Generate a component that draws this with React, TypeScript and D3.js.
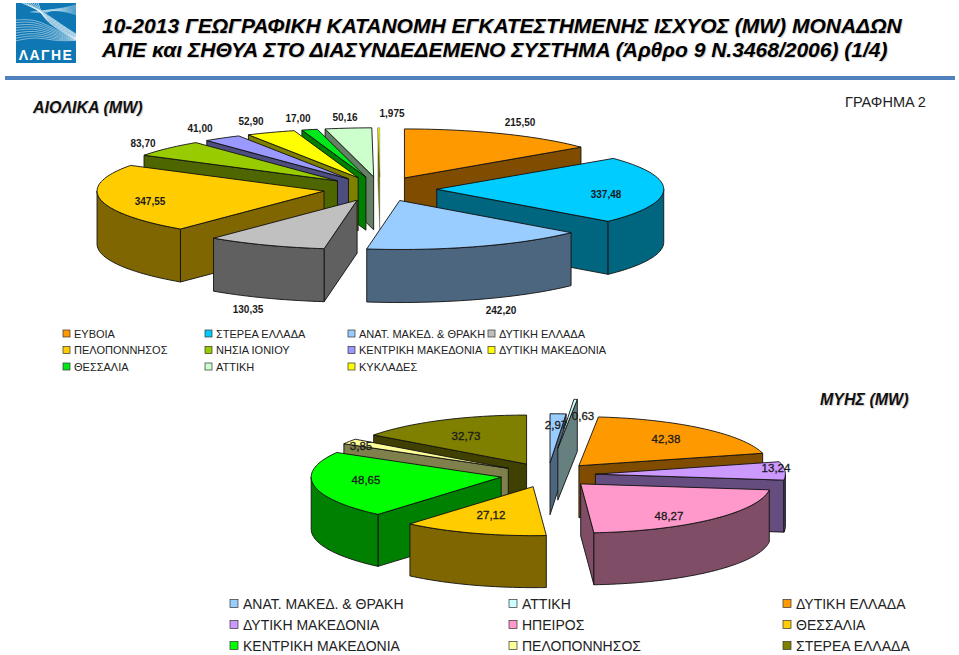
import React, { useEffect, useRef } from "react";
import * as d3 from "d3";

// ---- data ----
const titleLines = [
  "10-2013 ΓΕΩΓΡΑΦΙΚΗ ΚΑΤΑΝΟΜΗ ΕΓΚΑΤΕΣΤΗΜΕΝΗΣ ΙΣΧΥΟΣ (MW) ΜΟΝΑΔΩΝ",
  "ΑΠΕ και ΣΗΘΥΑ ΣΤΟ ΔΙΑΣΥΝΔΕΔΕΜΕΝΟ ΣΥΣΤΗΜΑ (Άρθρο 9 Ν.3468/2006) (1/4)",
];

// wind pie, clockwise from 12 o'clock (same order as its legend)
const windCategories = [
  "ΕΥΒΟΙΑ", "ΣΤΕΡΕΑ ΕΛΛΑΔΑ", "ΑΝΑΤ. ΜΑΚΕΔ. & ΘΡΑΚΗ", "ΔΥΤΙΚΗ ΕΛΛΑΔΑ",
  "ΠΕΛΟΠΟΝΝΗΣΟΣ", "ΝΗΣΙΑ ΙΟΝΙΟΥ", "ΚΕΝΤΡΙΚΗ ΜΑΚΕΔΟΝΙΑ", "ΔΥΤΙΚΗ ΜΑΚΕΔΟΝΙΑ",
  "ΘΕΣΣΑΛΙΑ", "ΑΤΤΙΚΗ", "ΚΥΚΛΑΔΕΣ",
];
const windValues = [215.5, 337.48, 242.2, 130.35, 347.55, 83.7, 41, 52.9, 17, 50.16, 1.975];
const windLabels = ["215,50", "337,48", "242,20", "130,35", "347,55", "83,70", "41,00", "52,90", "17,00", "50,16", "1,975"];
const windTops = ["#ff9900", "#00ccff", "#99ccff", "#c0c0c0", "#ffcc00", "#99cc00", "#9999ff", "#ffff00", "#00e81a", "#ccffcc", "#ffff00"];
const windWalls = ["#804d00", "#006680", "#4d6680", "#606060", "#806600", "#4d6600", "#4d4d80", "#808000", "#008000", "#668066", "#808000"];

// hydro pie, clockwise from 12 o'clock
const hydroSlices = [
  "ΑΝΑΤ. ΜΑΚΕΔ. & ΘΡΑΚΗ", "ΑΤΤΙΚΗ", "ΔΥΤΙΚΗ ΕΛΛΑΔΑ", "ΔΥΤΙΚΗ ΜΑΚΕΔΟΝΙΑ", "ΗΠΕΙΡΟΣ",
  "ΘΕΣΣΑΛΙΑ", "ΚΕΝΤΡΙΚΗ ΜΑΚΕΔΟΝΙΑ", "ΠΕΛΟΠΟΝΝΗΣΟΣ", "ΣΤΕΡΕΑ ΕΛΛΑΔΑ",
];
const hydroValues = [2.97, 0.63, 42.38, 13.24, 48.27, 27.12, 48.65, 3.85, 32.73];
const hydroLabels = ["2,97", "0,63", "42,38", "13,24", "48,27", "27,12", "48,65", "3,85", "32,73"];
const hydroTops = ["#99ccff", "#ccffff", "#ff9900", "#cc99ff", "#ff99cc", "#ffcc00", "#00ff00", "#ffff99", "#808000"];
const hydroWalls = ["#4d6680", "#668080", "#804d00", "#664d80", "#804d66", "#806600", "#008000", "#80804d", "#404000"];

// ---- layout (label centres) ----
const windLabelPos = [[520, 122], [606, 194], [501, 310], [248, 309], [150, 201], [143, 143], [200, 128], [251, 121], [298, 118], [345, 117], [392, 113]];
const hydroLabelPos = [[556, 425], [583, 416], [666, 439], [776, 468], [669, 516], [491, 515], [366, 480], [361, 446], [466, 436]];

const FONT = "'Liberation Sans', Arial, sans-serif";

type PieCfg = {
  cx: number; cy: number; rx: number; ry: number; depth: number;
  values: number[]; tops: string[]; walls: string[];
  pull: (i: number) => number;
};

function drawPie(g: any, cfg: PieCfg) {
  const { cx, cy, rx, ry, depth, values, tops, walls, pull } = cfg;
  const xScale = d3.scaleLinear().domain([-1, 1]).range([cx - rx, cx + rx]);
  const yScale = d3.scaleLinear().domain([-1, 1]).range([cy + ry, cy - ry]);
  const arcs = d3.pie<number>().sort(null).value((d) => d)(values);
  const line = d3.line<number[]>().x((d) => d[0]).y((d) => d[1]);

  const slices = arcs.map((a, i) => {
    const mid = (a.startAngle + a.endAngle) / 2;
    const ox = pull(i) * Math.sin(mid);
    const oy = pull(i) * Math.cos(mid);
    const apex = [xScale(ox), yScale(oy)];
    const rim = (t: number) => [xScale(ox + Math.sin(t)), yScale(oy + Math.cos(t))];
    const sweep = (from: number, to: number) => {
      const n = Math.max(2, Math.ceil((to - from) / 0.03));
      return d3.range(n + 1).map((k) => rim(from + ((to - from) * k) / n));
    };
    return { i, mid, apex, rim, sweep, a: a.startAngle, b: a.endAngle };
  });

  // back to front
  const order = slices.slice().sort((p, q) => Math.abs(Math.PI - q.mid) - Math.abs(Math.PI - p.mid));
  const down = (p: number[]) => [p[0], p[1] + depth];

  order.forEach((s) => {
    // very thin slices read as a soft grey line in the reference
    const thin = s.b - s.a < 0.01;
    const sg = g.append("g")
      .attr("stroke", "#111")
      .attr("stroke-width", thin ? 0.6 : 0.9)
      .attr("stroke-opacity", thin ? 0.45 : 1)
      .attr("stroke-linejoin", "round");
    const wall = (pts: number[][]) =>
      sg.append("path").attr("d", line(pts.concat(pts.slice().reverse().map(down))) + "Z").attr("fill", walls[s.i]);

    if (Math.sin(s.a) < -1e-6) wall([s.apex, s.rim(s.a)]);
    if (Math.sin(s.b) > 1e-6) wall([s.apex, s.rim(s.b)]);
    const from = Math.max(s.a, Math.PI / 2);
    const to = Math.min(s.b, (3 * Math.PI) / 2);
    if (to > from) wall(s.sweep(from, to));

    sg.append("path").attr("d", line([s.apex, ...s.sweep(s.a, s.b)]) + "Z").attr("fill", tops[s.i]);
  });
}

function drawLogo(svg: any) {
  const g = svg.append("g");
  g.append("rect").attr("x", 16).attr("y", 3).attr("width", 60).attr("height", 60).attr("fill", "#0f78b4");
  const curve = d3.line<number[]>().curve(d3.curveBasis);
  // white wave lines of the logo
  d3.range(9).forEach((k) => {
    g.append("path")
      .attr("d", curve([[16, 20 + k * 2.6], [36, 19 + k * 2.2], [56, 30 + k * 1.4], [76, 38 + k * 0.3]]))
      .attr("fill", "none").attr("stroke", "#cfe6f3").attr("stroke-width", 0.6);
    g.append("path")
      .attr("d", curve([[22 + k * 2, 3], [44, 12 + k], [60, 24 + k * 0.8], [76, 34 + k * 0.7]]))
      .attr("fill", "none").attr("stroke", "#e6f2f9").attr("stroke-width", 0.7);
    g.append("path")
      .attr("d", curve([[30 + k * 2, 12 + k * 0.2], [50, 10], [64, 8 + k * 0.4], [76, 5 + k * 1.2]]))
      .attr("fill", "none").attr("stroke", "#b9dbee").attr("stroke-width", 0.5);
  });
  g.append("rect").attr("x", 16).attr("y", 47).attr("width", 60).attr("height", 16).attr("fill", "#0f78b4");
  g.append("text").attr("x", 46).attr("y", 60).attr("text-anchor", "middle")
    .attr("font-family", FONT).attr("font-weight", 700).attr("font-size", 14).attr("letter-spacing", 1.4)
    .attr("fill", "#fff").text("ΛΑΓΗΕ");
}

function drawLabels(svg: any, labels: string[], pos: number[][], size: number, weight: number, halo: number) {
  svg.append("g").selectAll("text").data(labels).join("text")
    .attr("x", (_: string, i: number) => pos[i][0])
    .attr("y", (_: string, i: number) => pos[i][1])
    .attr("dy", "0.36em")
    .attr("text-anchor", "middle")
    .attr("font-family", FONT).attr("font-size", size).attr("font-weight", weight)
    .attr("fill", "#1a1a1a").attr("stroke", "#1a1a1a").attr("stroke-width", halo)
    .text((d: string) => d);
}

export default function App() {
  const ref = useRef<SVGSVGElement | null>(null);

  useEffect(() => {
    const svg = d3.select(ref.current);
    svg.selectAll("*").remove();

    drawLogo(svg);

    svg.append("g").selectAll("text").data(titleLines).join("text")
      .attr("x", 102).attr("y", (_: string, i: number) => 32.5 + i * 24.2)
      .attr("font-family", FONT).attr("font-weight", 700).attr("font-style", "italic").attr("font-size", 21)
      .attr("fill", "#000").style("text-shadow", "1px 1px 1px #ccc")
      .text((d: string) => d);

    svg.append("rect").attr("x", 5).attr("y", 76).attr("width", 950).attr("height", 4).attr("fill", "#4f81bd");

    const heading = (txt: string, x: number, y: number) =>
      svg.append("text").attr("x", x).attr("y", y).attr("font-family", FONT).attr("font-weight", 700)
        .attr("font-style", "italic").attr("font-size", 16).attr("fill", "#111")
        .style("text-shadow", "1px 1px 1px #ccc").text(txt);
    heading("ΑΙΟΛΙΚΑ (MW)", 33, 113);
    heading("ΜΥΗΣ (MW)", 820, 405);
    svg.append("text").attr("x", 845).attr("y", 106.5).attr("font-family", FONT).attr("font-size", 14.5)
      .attr("fill", "#222").text("ΓΡΑΦΗΜΑ 2");

    drawPie(svg.append("g"), {
      cx: 380, cy: 189, rx: 227, ry: 49, depth: 53,
      values: windValues, tops: windTops, walls: windWalls, pull: () => 0.25,
    });
    // the ΑΤΤΙΚΗ sliver of the lower pie sits further out than the rest
    drawPie(svg.append("g"), {
      cx: 548, cy: 475, rx: 190, ry: 49, depth: 52,
      values: hydroValues, tops: hydroTops, walls: hydroWalls, pull: (i) => (i === 1 ? 0.55 : 0.25),
    });

    drawLabels(svg, windLabels, windLabelPos, 10, 700, 0);
    drawLabels(svg, hydroLabels, hydroLabelPos, 11.5, 400, 0.3);

    // wind legend: 4 columns, filled row by row
    const windCols = d3.scaleOrdinal<number, number>().domain([0, 1, 2, 3]).range([63, 205, 348, 488]);
    const windRow = d3.scaleLinear().domain([0, 2]).range([334, 367]);
    const wl = svg.append("g").selectAll("g").data(windCategories).join("g")
      .attr("transform", (_: string, i: number) => `translate(${windCols(i % 4)},${windRow(Math.floor(i / 4))})`);
    wl.append("rect").attr("x", 0).attr("y", -4).attr("width", 7).attr("height", 7)
      .attr("fill", (_: string, i: number) => windTops[i]).attr("stroke", "#333").attr("stroke-width", 0.7);
    wl.append("text").attr("x", 11).attr("y", 3.5).attr("font-family", FONT).attr("font-size", 11)
      .attr("fill", "#222").text((d: string) => d);

    // hydro legend: 3 columns, filled row by row
    const hydroCols = d3.scaleOrdinal<number, number>().domain([0, 1, 2]).range([230, 509, 783]);
    const hydroRow = d3.scaleLinear().domain([0, 2]).range([604, 646]);
    const hl = svg.append("g").selectAll("g").data(hydroSlices).join("g")
      .attr("transform", (_: string, i: number) => `translate(${hydroCols(i % 3)},${hydroRow(Math.floor(i / 3))})`);
    hl.append("rect").attr("x", 0).attr("y", -4.5).attr("width", 8).attr("height", 8)
      .attr("fill", (_: string, i: number) => hydroTops[i]).attr("stroke", "#333").attr("stroke-width", 0.7);
    hl.append("text").attr("x", 13).attr("y", 5).attr("font-family", FONT).attr("font-size", 14)
      .attr("fill", "#222").text((d: string) => d);
  }, []);

  return (
    <svg
      ref={ref}
      width={959}
      height={655}
      style={{ position: "absolute", left: 0, top: 0, display: "block", background: "#fff" }}
    />
  );
}
